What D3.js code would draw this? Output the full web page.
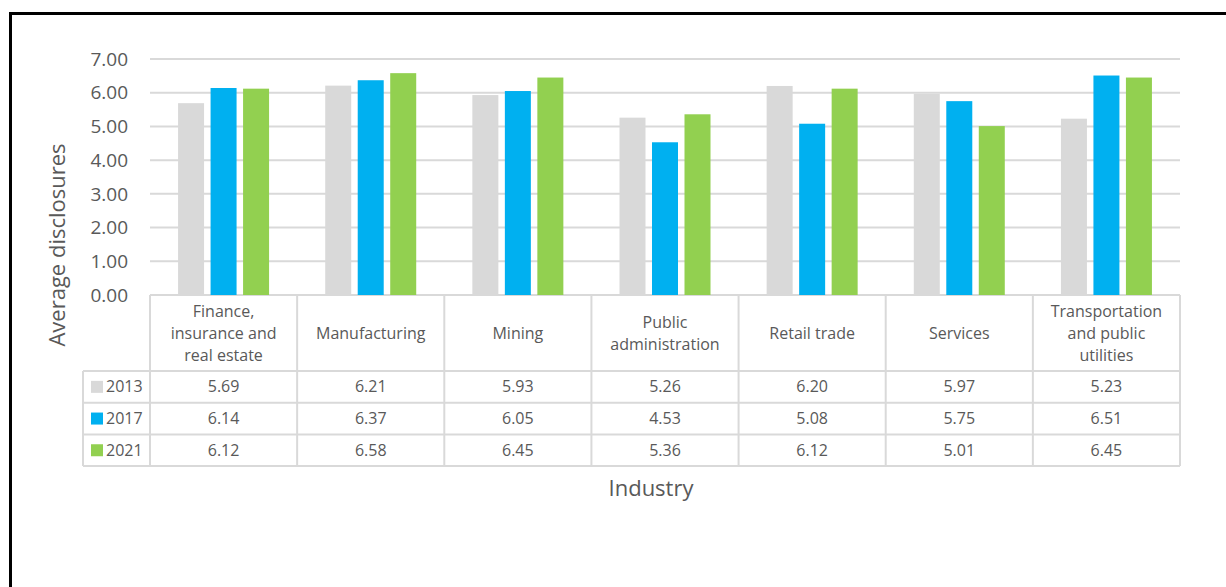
<!DOCTYPE html>
<html>
<head>
<meta charset="utf-8">
<script src="https://cdn.jsdelivr.net/npm/d3@7"></script>
<style>
  html, body { margin: 0; padding: 0; background: #fff; }
  svg { display: block; font-family: 'Open Sans', sans-serif; }
</style>
</head>
<body>
<svg id="chart" width="1226" height="587"></svg>
<script>
const industries = [
  ['Finance,', 'insurance and', 'real estate'],
  ['Manufacturing'],
  ['Mining'],
  ['Public', 'administration'],
  ['Retail trade'],
  ['Services'],
  ['Transportation', 'and public', 'utilities'],
];
const years = ['2013', '2017', '2021'];
const colors = ['#d9d9d9', '#00b0f0', '#92d050'];
const values2013 = [5.69, 6.21, 5.93, 5.26, 6.20, 5.97, 5.23];
const values2017 = [6.14, 6.37, 6.05, 4.53, 5.08, 5.75, 6.51];
const values2021 = [6.12, 6.58, 6.45, 5.36, 6.12, 5.01, 6.45];
const yTicks = [0, 1, 2, 3, 4, 5, 6, 7];

const series = [values2013, values2017, values2021];
const catIdx = industries.map((d, i) => i);

const svg = d3.select('#chart');

// outer frame (only left and top edges visible)
svg.append('path')
  .attr('d', 'M10.5,587 L10.5,13.5 L1226,13.5')
  .attr('fill', 'none')
  .attr('stroke', '#000')
  .attr('stroke-width', 3);

const plot = { left: 150, right: 1180, top: 59, bottom: 295 };
const tableRows = { header: 76, row: 31.7 };
const legendLeft = 83;
const groupWidth = 91;

const x = d3.scaleBand()
  .domain(catIdx)
  .range([plot.left, plot.right]);

const xInner = d3.scaleBand()
  .domain(years)
  .range([0, groupWidth])
  .paddingInner(0.2);

const y = d3.scaleLinear()
  .domain([0, 7])
  .range([plot.bottom, plot.top]);

// gridlines
svg.append('g')
  .selectAll('line')
  .data(yTicks)
  .join('line')
  .attr('x1', plot.left)
  .attr('x2', plot.right)
  .attr('y1', (d) => y(d))
  .attr('y2', (d) => y(d))
  .attr('stroke', '#d9d9d9')
  .attr('stroke-width', 2);

// y axis labels
svg.append('g')
  .selectAll('text')
  .data(yTicks)
  .join('text')
  .attr('x', 128)
  .attr('y', (d) => y(d))
  .attr('dy', '0.35em')
  .attr('text-anchor', 'end')
  .attr('font-size', 19)
  .attr('fill', '#595959')
  .text((d) => d.toFixed(2));

// bars
const groups = svg.append('g')
  .selectAll('g')
  .data(catIdx)
  .join('g')
  .attr('transform', (i) => `translate(${x(i) + (x.bandwidth() - groupWidth) / 2},0)`);

groups.selectAll('rect')
  .data((i) => years.map((yr, k) => ({ yr, k, v: series[k][i] })))
  .join('rect')
  .attr('x', (d) => xInner(d.yr))
  .attr('width', xInner.bandwidth())
  .attr('y', (d) => y(d.v))
  .attr('height', (d) => y(0) - y(d.v))
  .attr('fill', (d) => colors[d.k]);

// data table
const tableTop = plot.bottom;
const rowY = (r) => tableTop + tableRows.header + r * tableRows.row;
const tableBottom = rowY(years.length);
const table = svg.append('g')
  .attr('stroke', '#d9d9d9')
  .attr('stroke-width', 2)
  .attr('fill', 'none');

// vertical lines
const vx = catIdx.map((i) => x(i)).concat([plot.right]);
table.selectAll('line.v')
  .data(vx)
  .join('line')
  .attr('class', 'v')
  .attr('x1', (d) => d)
  .attr('x2', (d) => d)
  .attr('y1', tableTop)
  .attr('y2', tableBottom);

table.append('line')
  .attr('x1', legendLeft).attr('x2', legendLeft)
  .attr('y1', rowY(0)).attr('y2', tableBottom);

// horizontal lines
table.selectAll('line.h')
  .data(d3.range(years.length + 1))
  .join('line')
  .attr('class', 'h')
  .attr('x1', legendLeft)
  .attr('x2', plot.right)
  .attr('y1', (r) => rowY(r))
  .attr('y2', (r) => rowY(r));

// header labels
const header = svg.append('g')
  .attr('font-size', 16)
  .attr('fill', '#595959')
  .attr('text-anchor', 'middle');

catIdx.forEach((i) => {
  const lines = industries[i];
  const cy = tableTop + tableRows.header / 2;
  const lh = 22;
  const t = header.append('text')
    .attr('x', x(i) + x.bandwidth() / 2);
  lines.forEach((ln, j) => {
    t.append('tspan')
      .attr('x', x(i) + x.bandwidth() / 2)
      .attr('y', cy + (j - (lines.length - 1) / 2) * lh)
      .attr('dy', '0.35em')
      .text(ln);
  });
});

// value cells
years.forEach((yr, k) => {
  const cy = rowY(k) + tableRows.row / 2;
  svg.append('g')
    .selectAll('text')
    .data(catIdx)
    .join('text')
    .attr('x', (i) => x(i) + x.bandwidth() / 2)
    .attr('y', cy)
    .attr('dy', '0.35em')
    .attr('text-anchor', 'middle')
    .attr('font-size', 16)
    .attr('fill', '#595959')
    .text((i) => series[k][i].toFixed(2));

  svg.append('rect')
    .attr('x', 91)
    .attr('y', cy - 6)
    .attr('width', 12)
    .attr('height', 12)
    .attr('fill', colors[k]);

  svg.append('text')
    .attr('x', 106)
    .attr('y', cy)
    .attr('dy', '0.35em')
    .attr('font-size', 16)
    .attr('fill', '#595959')
    .text(yr);
});

// axis titles
svg.append('text')
  .attr('transform', `translate(65,${(plot.top + plot.bottom) / 2 + 68}) rotate(-90)`)
  .attr('text-anchor', 'middle')
  .attr('font-size', 22)
  .attr('fill', '#595959')
  .text('Average disclosures');

svg.append('text')
  .attr('x', 651)
  .attr('y', 496)
  .attr('text-anchor', 'middle')
  .attr('font-size', 22)
  .attr('fill', '#595959')
  .text('Industry');
</script>
</body>
</html>
